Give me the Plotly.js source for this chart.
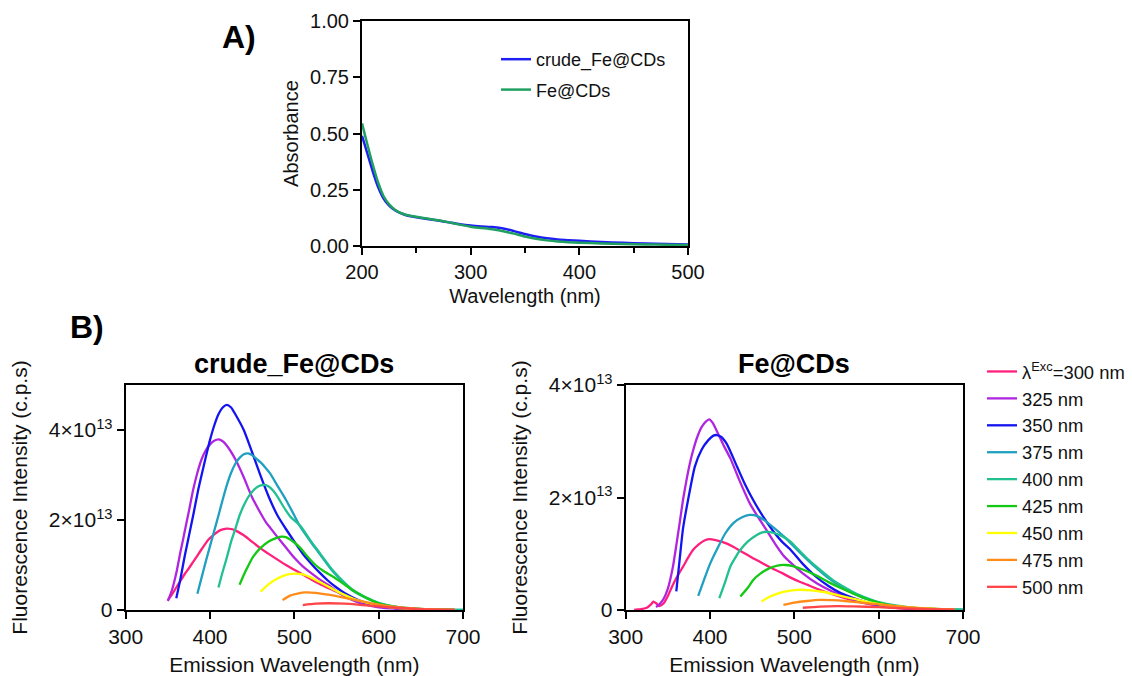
<!DOCTYPE html>
<html>
<head>
<meta charset="utf-8">
<script src="https://cdn.plot.ly/plotly-3.0.1.min.js"></script>
<style>html,body{margin:0;padding:0;background:#fff;}#chart{width:1132px;height:676px;}</style>
</head>
<body>
<div id="chart"></div>
<script>
// ---------- Panel A: absorbance ----------
const absWavelength = [200,205,210,215,220,225,230,235,240,250,260,270,280,290,300,310,320,330,340,350,360,370,380,390,400,420,440,460,480,500];
const absCrude = [0.49,0.41,0.33,0.26,0.21,0.18,0.16,0.147,0.138,0.128,0.12,0.113,0.105,0.097,0.091,0.087,0.084,0.078,0.066,0.053,0.042,0.034,0.029,0.026,0.023,0.018,0.014,0.011,0.009,0.007];
const absFe = [0.545,0.45,0.36,0.28,0.22,0.185,0.162,0.148,0.139,0.13,0.122,0.114,0.105,0.095,0.086,0.08,0.074,0.066,0.055,0.042,0.032,0.025,0.02,0.017,0.015,0.011,0.009,0.007,0.006,0.005];
const absNames = ['crude_Fe@CDs','Fe@CDs'];

// ---------- Panel B: emission spectra (intensity in units of 1e13 c.p.s) ----------
const excLabels = ['λ<sup>Exc</sup>=300 nm','325 nm','350 nm','375 nm','400 nm','425 nm','450 nm','475 nm','500 nm'];

// crude_Fe@CDs
const crudeX300 = [350,355,360,365,370,375,380,384,390,398,405,410,415,420,425,430,440,447,460,475,490,507,520,530,546,560,570,580,600,620,650,690];
const crudeY300 = [0.22,0.35,0.5,0.65,0.8,0.93,1.07,1.18,1.35,1.56,1.68,1.75,1.79,1.81,1.80,1.77,1.66,1.56,1.37,1.18,1.0,0.82,0.68,0.58,0.44,0.32,0.25,0.18,0.09,0.04,0.01,0];
const crudeX325 = [350,355,360,365,368,370,375,380,385,390,395,400,405,410,415,420,430,440,445,450,460,467,470,480,490,500,510,520,530,540,550,560,570,580,600,620,650,690];
const crudeY325 = [0.2,0.45,0.82,1.3,1.56,1.75,2.2,2.67,3.05,3.35,3.55,3.68,3.76,3.79,3.75,3.65,3.35,2.95,2.72,2.5,2.15,1.93,1.86,1.62,1.39,1.16,0.97,0.82,0.68,0.56,0.42,0.3,0.21,0.14,0.06,0.03,0.01,0];
const crudeX350 = [360,365,370,375,380,386,390,395,400,405,410,415,420,425,430,440,450,460,470,480,490,500,510,520,530,540,550,560,570,580,590,600,620,640,660,690];
const crudeY350 = [0.26,0.7,1.2,1.65,2.1,2.67,3.0,3.4,3.78,4.1,4.35,4.5,4.56,4.5,4.35,4.0,3.5,2.98,2.5,2.1,1.8,1.52,1.25,1.03,0.83,0.65,0.5,0.37,0.27,0.19,0.13,0.09,0.04,0.02,0.01,0];
const crudeX375 = [385,390,395,400,405,410,415,420,425,430,435,440,445,450,455,460,465,471,480,490,500,507,520,530,546,560,570,586,600,620,640,660,690,700];
const crudeY375 = [0.36,0.72,1.08,1.42,1.76,2.1,2.45,2.78,3.05,3.25,3.38,3.46,3.48,3.44,3.36,3.28,3.18,3.04,2.76,2.45,2.1,1.85,1.5,1.25,0.85,0.58,0.42,0.26,0.15,0.07,0.03,0.015,0.005,0];
const crudeX400 = [410,415,420,425,430,435,440,445,450,455,460,465,470,475,480,487,495,507,520,530,546,560,570,586,600,620,640,660,690,700];
const crudeY400 = [0.5,0.85,1.17,1.52,1.8,2.1,2.32,2.5,2.63,2.72,2.77,2.78,2.74,2.65,2.52,2.3,2.08,1.87,1.52,1.27,0.87,0.6,0.44,0.27,0.16,0.075,0.035,0.015,0.005,0];
const crudeX425 = [435,440,445,451,460,470,480,485,490,500,507,515,525,535,546,560,570,586,600,620,640,660,690];
const crudeY425 = [0.56,0.78,0.97,1.18,1.38,1.53,1.61,1.63,1.62,1.5,1.38,1.2,1.0,0.86,0.74,0.56,0.43,0.26,0.15,0.07,0.03,0.015,0.005];
const crudeX450 = [460,470,480,490,500,510,520,530,540,550,560,570,580,600,620,650,690];
const crudeY450 = [0.41,0.58,0.7,0.78,0.81,0.79,0.72,0.62,0.52,0.42,0.33,0.25,0.19,0.1,0.05,0.015,0];
const crudeX475 = [486,495,505,513,525,540,560,580,600,620,650,690];
const crudeY475 = [0.22,0.32,0.37,0.39,0.38,0.34,0.27,0.19,0.12,0.07,0.025,0.005];
const crudeX500 = [510,525,540,560,580,600,620,650,690];
const crudeY500 = [0.11,0.14,0.15,0.14,0.11,0.08,0.05,0.02,0.005];

// Fe@CDs
const feX300 = [310,315,320,325,330,333,336,340,345,350,356,362,368,374,380,387,394,400,410,420,428,436,450,460,471,485,495,505,515,530,545,560,580,600,620,650,690];
const feY300 = [0,0.01,0.02,0.04,0.1,0.15,0.12,0.07,0.12,0.25,0.45,0.62,0.77,0.93,1.07,1.17,1.24,1.26,1.23,1.18,1.12,1.05,0.93,0.85,0.76,0.66,0.58,0.51,0.45,0.36,0.28,0.21,0.13,0.08,0.04,0.015,0];
const feX325 = [336,340,345,350,356,360,364,368,372,376,380,385,390,395,399,403,410,417,424,435,447,457,467,477,487,495,510,527,545,560,580,600,620,650,690];
const feY325 = [0.05,0.1,0.2,0.38,0.77,1.15,1.55,1.96,2.3,2.6,2.84,3.08,3.25,3.35,3.39,3.33,3.12,2.9,2.7,2.3,1.9,1.65,1.42,1.18,0.97,0.85,0.65,0.47,0.33,0.24,0.14,0.08,0.04,0.015,0];
const feX350 = [360,364,368,374,382,390,398,404,408,413,420,432,441,451,463,475,485,495,510,525,540,555,570,585,600,620,650,690];
const feY350 = [0.33,0.9,1.45,1.96,2.55,2.85,3.02,3.1,3.11,3.08,2.95,2.55,2.25,1.96,1.66,1.4,1.22,1.08,0.82,0.6,0.43,0.3,0.21,0.14,0.09,0.05,0.02,0.005];
const feX375 = [386,392,400,408,418,428,438,447,456,466,479,491,500,510,525,540,555,570,585,600,620,650,690,700];
const feY375 = [0.25,0.5,0.82,1.07,1.36,1.55,1.65,1.69,1.67,1.58,1.42,1.26,1.12,0.97,0.76,0.57,0.42,0.3,0.2,0.13,0.07,0.03,0.01,0.005];
const feX400 = [411,418,424,430,436,445,455,462,469,478,487,495,505,515,530,545,560,575,590,600,620,650,690,700];
const feY400 = [0.21,0.5,0.77,0.93,1.07,1.22,1.33,1.38,1.39,1.36,1.3,1.22,1.07,0.92,0.72,0.54,0.4,0.28,0.19,0.14,0.08,0.03,0.01,0.005];
const feX425 = [436,445,451,460,470,480,489,498,510,525,540,555,570,585,600,620,650,690];
const feY425 = [0.24,0.4,0.53,0.65,0.74,0.79,0.8,0.78,0.72,0.62,0.5,0.39,0.29,0.2,0.13,0.07,0.03,0.01];
const feX450 = [461,470,480,490,500,507,520,535,550,570,590,610,640,670,690];
const feY450 = [0.15,0.23,0.29,0.33,0.355,0.36,0.35,0.32,0.27,0.2,0.13,0.08,0.04,0.015,0.005];
const feX475 = [487,500,515,530,545,560,580,600,620,650,690];
const feY475 = [0.09,0.13,0.16,0.18,0.175,0.16,0.13,0.1,0.07,0.035,0.01];
const feX500 = [510,530,550,570,600,630,660,690];
const feY500 = [0.04,0.06,0.07,0.065,0.05,0.03,0.015,0.005];

const intensityUnit = 1e13;
const yTickVals = [0, 2, 4];
const yTickText = ['0', '2×10<sup>13</sup>', '4×10<sup>13</sup>'];

// ---------- styling ----------
const excColors = ['#ff1f7d','#b026e0','#1414f0','#1fa0c0','#20c090','#14c814','#ffff00','#ff8c1a','#ff4545'];
const absColors = ['#1e1ef5','#20a060'];
const FONT = 'Liberation Sans, Arial, sans-serif';
const W = 1132, H = 676;
const px = v => v / W;
const py = v => 1 - v / H;

const crudeSets = [[crudeX300,crudeY300],[crudeX325,crudeY325],[crudeX350,crudeY350],[crudeX375,crudeY375],[crudeX400,crudeY400],[crudeX425,crudeY425],[crudeX450,crudeY450],[crudeX475,crudeY475],[crudeX500,crudeY500]];
const feSets = [[feX300,feY300],[feX325,feY325],[feX350,feY350],[feX375,feY375],[feX400,feY400],[feX425,feY425],[feX450,feY450],[feX475,feY475],[feX500,feY500]];

const traces = [];
traces.push({x: absWavelength, y: absCrude, name: absNames[0], type: 'scatter', mode: 'lines', xaxis: 'x', yaxis: 'y', legend: 'legend2', legendgroup: 'a1', line: {color: absColors[0], width: 2.5, shape: 'spline', smoothing: 0.6}});
traces.push({x: absWavelength, y: absFe, name: absNames[1], type: 'scatter', mode: 'lines', xaxis: 'x', yaxis: 'y', legend: 'legend2', legendgroup: 'a2', line: {color: absColors[1], width: 2.5, shape: 'spline', smoothing: 0.6}});

crudeSets.forEach((s, i) => {
  traces.push({x: s[0], y: s[1].map(v => v * intensityUnit), name: excLabels[i], type: 'scatter', mode: 'lines', xaxis: 'x2', yaxis: 'y2', legend: 'legend', line: {color: excColors[i], width: 2.3, shape: 'spline', smoothing: 0.6}});
});
feSets.forEach((s, i) => {
  traces.push({x: s[0], y: s[1].map(v => v * intensityUnit), name: excLabels[i], type: 'scatter', mode: 'lines', xaxis: 'x3', yaxis: 'y3', showlegend: false, line: {color: excColors[i], width: 2.3, shape: 'spline', smoothing: 0.6}});
});

function axisBase(size) {
  return {
    showline: true, linecolor: '#000', linewidth: 2, mirror: true,
    ticks: 'outside', ticklen: 7, tickwidth: 2, tickcolor: '#000',
    showgrid: false, zeroline: false,
    tickfont: {family: FONT, size: size, color: '#111'}
  };
}

const layout = {
  width: W, height: H,
  margin: {l: 0, r: 0, t: 0, b: 0},
  paper_bgcolor: '#fff', plot_bgcolor: '#fff',
  font: {family: FONT, color: '#111'},
  showlegend: true,
  xaxis: Object.assign(axisBase(20), {
    domain: [px(362), px(688)], anchor: 'y', range: [200, 500], dtick: 100,
    minor: {dtick: 50, ticks: 'outside', ticklen: 5, tickwidth: 2, tickcolor: '#000'},
    title: {text: 'Wavelength (nm)', font: {family: FONT, size: 20, color: '#111'}, standoff: 7}
  }),
  yaxis: Object.assign(axisBase(20), {
    domain: [py(246), py(21)], anchor: 'x', range: [0, 1], dtick: 0.25, tickformat: '.2f',
    title: {text: 'Absorbance', font: {family: FONT, size: 20, color: '#111'}, standoff: 6}
  }),
  xaxis2: Object.assign(axisBase(21), {
    domain: [px(125.7), px(463)], anchor: 'y2', range: [300, 700], dtick: 100,
    title: {text: 'Emission Wavelength (nm)', font: {family: FONT, size: 21, color: '#111'}, standoff: 10}
  }),
  yaxis2: Object.assign(axisBase(21), {
    domain: [py(610), py(385)], anchor: 'x2', range: [0, 5e13],
    tickmode: 'array', tickvals: yTickVals.map(v => v * intensityUnit), ticktext: yTickText,
    title: {text: 'Fluorescence Intensity (c.p.s)', font: {family: FONT, size: 21, color: '#111'}, standoff: 15}
  }),
  xaxis3: Object.assign(axisBase(21), {
    domain: [px(625.7), px(963)], anchor: 'y3', range: [300, 700], dtick: 100,
    title: {text: 'Emission Wavelength (nm)', font: {family: FONT, size: 21, color: '#111'}, standoff: 10}
  }),
  yaxis3: Object.assign(axisBase(21), {
    domain: [py(610), py(385)], anchor: 'x3', range: [0, 4e13],
    tickmode: 'array', tickvals: yTickVals.map(v => v * intensityUnit), ticktext: yTickText,
    title: {text: 'Fluorescence Intensity (c.p.s)', font: {family: FONT, size: 21, color: '#111'}, standoff: 15}
  }),
  legend: {
    x: px(982), y: py(353), xanchor: 'left', yanchor: 'top',
    bgcolor: 'rgba(0,0,0,0)', borderwidth: 0,
    font: {family: FONT, size: 18.4, color: '#111'}
  },
  legend2: {
    x: px(496), y: py(41), xanchor: 'left', yanchor: 'top',
    bgcolor: 'rgba(0,0,0,0)', borderwidth: 0, tracegroupgap: 4,
    font: {family: FONT, size: 18, color: '#111'}
  },
  annotations: [
    {text: 'A)', x: px(239), y: py(37), xref: 'paper', yref: 'paper', showarrow: false, xanchor: 'center', yanchor: 'middle', font: {family: FONT, size: 32, weight: 'bold', color: '#000'}},
    {text: 'B)', x: px(87), y: py(327), xref: 'paper', yref: 'paper', showarrow: false, xanchor: 'center', yanchor: 'middle', font: {family: FONT, size: 32, weight: 'bold', color: '#000'}},
    {text: 'crude_Fe@CDs', x: px(294.3), y: py(364), xref: 'paper', yref: 'paper', showarrow: false, xanchor: 'center', yanchor: 'middle', font: {family: FONT, size: 27, weight: 'bold', color: '#000'}},
    {text: 'Fe@CDs', x: px(794.3), y: py(364), xref: 'paper', yref: 'paper', showarrow: false, xanchor: 'center', yanchor: 'middle', font: {family: FONT, size: 27, weight: 'bold', color: '#000'}}
  ]
};

Plotly.newPlot('chart', traces, layout, {displayModeBar: false, staticPlot: true});
</script>
</body>
</html>
